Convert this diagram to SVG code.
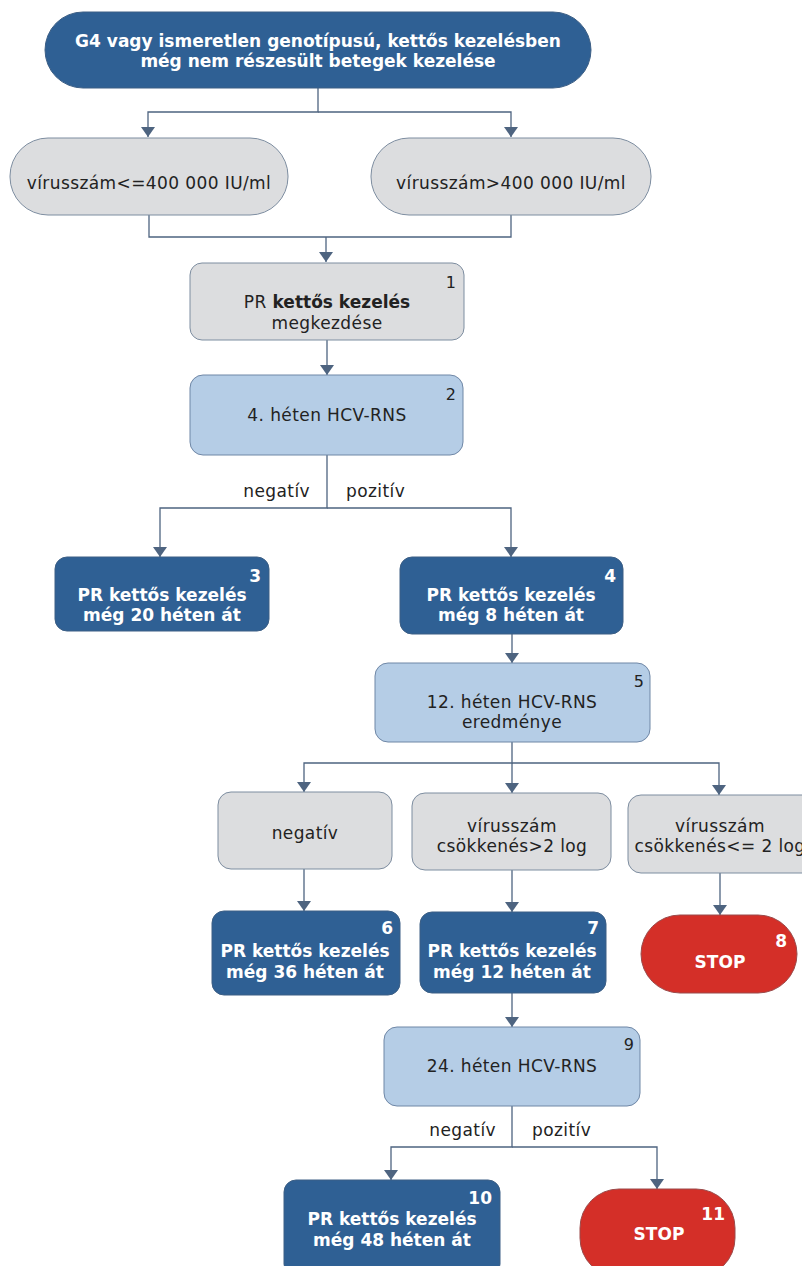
<svg xmlns="http://www.w3.org/2000/svg" width="802" height="1266" viewBox="0 0 802 1266">
  <style>
    .dark { fill: #2f6094; stroke: #3d5f85; stroke-width: 1; }
    .grey { fill: #dcdddf; stroke: #7d8da0; stroke-width: 1; }
    .light { fill: #b5cde6; stroke: #6f87a6; stroke-width: 1; }
    .stop { fill: #d42f28; stroke: #9a4a4a; stroke-width: 1; }
    .t { font-family: "DejaVu Sans", Verdana, sans-serif; font-size: 17px; letter-spacing: 0.4px; text-anchor: middle; fill: #222; }
    .tw { font-family: "DejaVu Sans", Verdana, sans-serif; font-size: 17px; font-weight: bold; text-anchor: middle; fill: #fff; }
    .title { font-family: "DejaVu Sans", Verdana, sans-serif; font-size: 17px; font-weight: bold; text-anchor: middle; fill: #fff; }
    .num { font-family: "DejaVu Sans", Verdana, sans-serif; font-size: 16px; text-anchor: end; fill: #222; }
    .numw { font-family: "DejaVu Sans", Verdana, sans-serif; font-size: 17px; font-weight: bold; text-anchor: end; fill: #fff; }
    .lbl { font-family: "DejaVu Sans", Verdana, sans-serif; font-size: 17px; letter-spacing: 0.4px; fill: #222; stroke: none; }
    .conn { fill: none; stroke: #4e6480; stroke-width: 1.3; }
  </style>
  <defs>
    <marker id="arr" viewBox="0 0 10 14" refX="10" refY="7" markerWidth="10" markerHeight="14" markerUnits="userSpaceOnUse" orient="auto">
      <path d="M0,0 L10,7 L0,14 Z" fill="#4e6480" stroke="none"/>
    </marker>
  </defs>

  <!-- connectors and their branch labels -->
  <g id="connectors">
    <g class="conn">
      <path d="M318,88 V112 H148 V137" marker-end="url(#arr)"/>
      <path d="M318,112 H511 V137" marker-end="url(#arr)"/>
      <path d="M149,215 V237 H511 V215"/>
      <path d="M326,237 V262" marker-end="url(#arr)"/>
      <path d="M327,340 V375" marker-end="url(#arr)"/>
      <path d="M327,455 V508 H160 V557" marker-end="url(#arr)"/>
      <path d="M327,508 H511 V557" marker-end="url(#arr)"/>
      <path d="M512,634 V663" marker-end="url(#arr)"/>
      <path d="M512,742 V763 H304 V792" marker-end="url(#arr)"/>
      <path d="M512,763 V793" marker-end="url(#arr)"/>
      <path d="M512,763 H719 V795" marker-end="url(#arr)"/>
      <path d="M304,869 V911" marker-end="url(#arr)"/>
      <path d="M512,870 V912" marker-end="url(#arr)"/>
      <path d="M720,873 V915" marker-end="url(#arr)"/>
      <path d="M512,993 V1027" marker-end="url(#arr)"/>
      <path d="M512,1106 V1147 H391 V1180" marker-end="url(#arr)"/>
      <path d="M512,1147 H657 V1189" marker-end="url(#arr)"/>
    </g>
    <text class="lbl" x="310" y="497" text-anchor="end">negatív</text>
    <text class="lbl" x="346" y="497">pozitív</text>
    <text class="lbl" x="496" y="1136" text-anchor="end">negatív</text>
    <text class="lbl" x="532" y="1136">pozitív</text>
  </g>

  <g id="start">
    <rect class="dark" x="45" y="12" width="546" height="76" rx="38"/>
    <text class="title" x="318" y="47">G4 vagy ismeretlen genotípusú, kettős kezelésben</text>
    <text class="title" x="318" y="67">még nem részesült betegek kezelése</text>
  </g>

  <g id="low">
    <rect class="grey" x="10" y="138" width="278" height="77" rx="38"/>
    <text class="t" x="149" y="189">vírusszám&lt;=400 000 IU/ml</text>
  </g>

  <g id="high">
    <rect class="grey" x="371" y="138" width="280" height="77" rx="38"/>
    <text class="t" x="511" y="189">vírusszám&gt;400 000 IU/ml</text>
  </g>

  <g id="n1">
    <rect class="grey" x="190" y="263" width="274" height="77" rx="12"/>
    <text class="num" x="456" y="288">1</text>
    <text class="t" x="327" y="308">PR <tspan font-weight="bold" letter-spacing="0">kettős kezelés</tspan></text>
    <text class="t" x="327" y="329">megkezdése</text>
  </g>

  <g id="n2">
    <rect class="light" x="190" y="375" width="273" height="80" rx="13"/>
    <text class="num" x="456" y="400">2</text>
    <text class="t" x="327" y="421">4. héten HCV-RNS</text>
  </g>

  <g id="n3">
    <rect class="dark" x="55" y="557" width="214" height="74" rx="12"/>
    <text class="numw" x="261" y="582">3</text>
    <text class="tw" x="162" y="601">PR kettős kezelés</text>
    <text class="tw" x="162" y="621">még 20 héten át</text>
  </g>

  <g id="n4">
    <rect class="dark" x="400" y="557" width="223" height="77" rx="12"/>
    <text class="numw" x="616" y="582">4</text>
    <text class="tw" x="511" y="601">PR kettős kezelés</text>
    <text class="tw" x="511" y="621">még 8 héten át</text>
  </g>

  <g id="n5">
    <rect class="light" x="375" y="663" width="275" height="79" rx="13"/>
    <text class="num" x="644" y="687">5</text>
    <text class="t" x="512" y="708">12. héten HCV-RNS</text>
    <text class="t" x="512" y="728">eredménye</text>
  </g>

  <g id="neg12">
    <rect class="grey" x="218" y="792" width="174" height="77" rx="13"/>
    <text class="t" x="305" y="839">negatív</text>
  </g>

  <g id="drop-gt2">
    <rect class="grey" x="412" y="793" width="199" height="77" rx="13"/>
    <text class="t" x="512" y="832">vírusszám</text>
    <text class="t" x="512" y="852">csökkenés&gt;2 log</text>
  </g>

  <g id="drop-le2">
    <rect class="grey" x="628" y="795" width="190" height="78" rx="13"/>
    <text class="t" x="720" y="832">vírusszám</text>
    <text class="t" x="720" y="852">csökkenés&lt;= 2 log</text>
  </g>

  <g id="n6">
    <rect class="dark" x="212" y="911" width="188" height="84" rx="12"/>
    <text class="numw" x="393" y="934">6</text>
    <text class="tw" x="305" y="957">PR kettős kezelés</text>
    <text class="tw" x="305" y="978">még 36 héten át</text>
  </g>

  <g id="n7">
    <rect class="dark" x="420" y="912" width="186" height="81" rx="12"/>
    <text class="numw" x="599" y="934">7</text>
    <text class="tw" x="512" y="957">PR kettős kezelés</text>
    <text class="tw" x="512" y="978">még 12 héten át</text>
  </g>

  <g id="n8">
    <rect class="stop" x="641" y="915" width="156" height="78" rx="39"/>
    <text class="numw" x="787" y="947">8</text>
    <text class="tw" x="720" y="968">STOP</text>
  </g>

  <g id="n9">
    <rect class="light" x="384" y="1027" width="256" height="79" rx="13"/>
    <text class="num" x="634" y="1050">9</text>
    <text class="t" x="512" y="1072">24. héten HCV-RNS</text>
  </g>

  <g id="n10">
    <rect class="dark" x="284" y="1180" width="216" height="96" rx="12"/>
    <text class="numw" x="492" y="1204">10</text>
    <text class="tw" x="392" y="1225">PR kettős kezelés</text>
    <text class="tw" x="392" y="1246">még 48 héten át</text>
  </g>

  <g id="n11">
    <rect class="stop" x="580" y="1189" width="155" height="88" rx="39"/>
    <text class="numw" x="725" y="1220">11</text>
    <text class="tw" x="659" y="1240">STOP</text>
  </g>
</svg>
